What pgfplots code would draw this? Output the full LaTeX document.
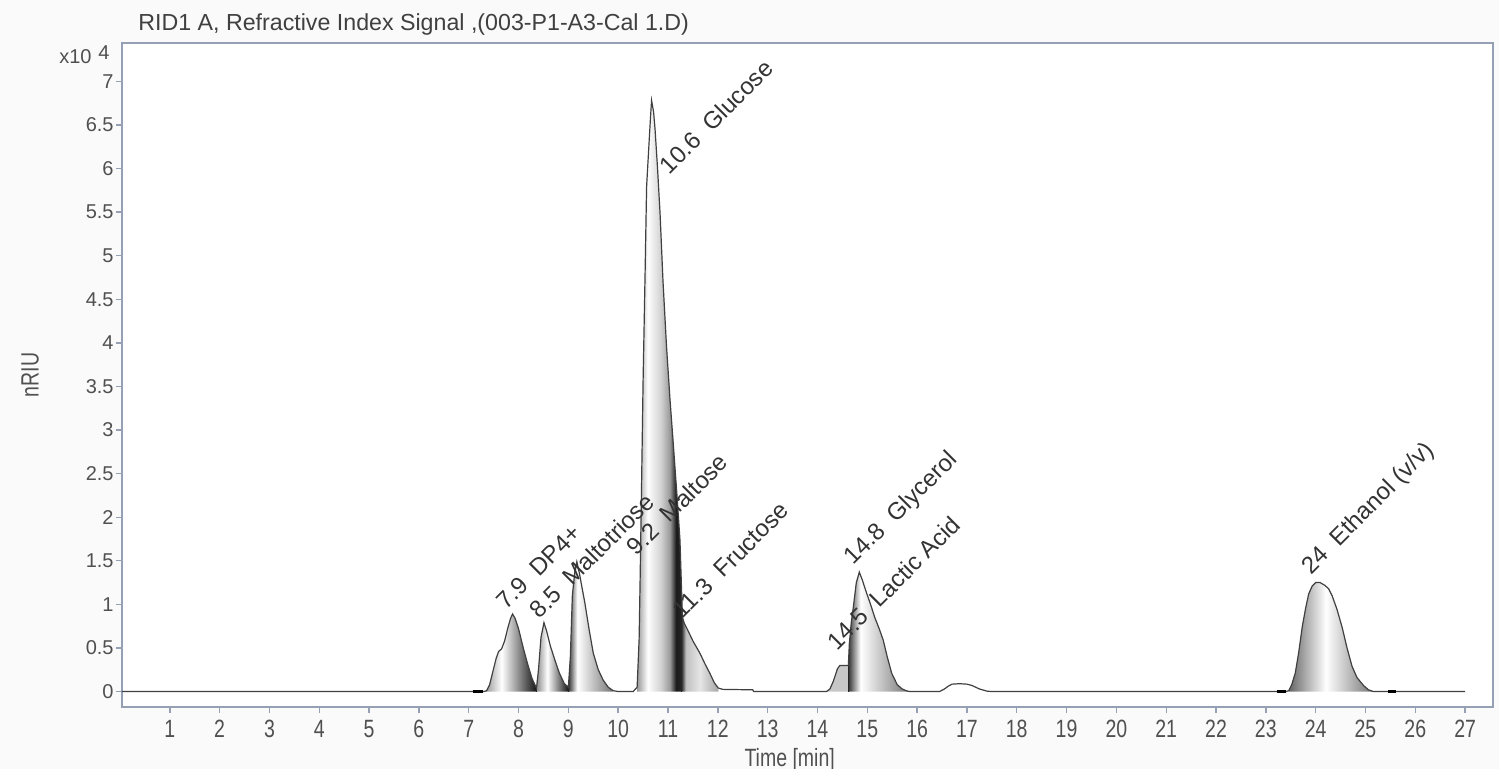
\documentclass[border=0pt]{standalone}
\usepackage{fontspec}
\setmainfont{Liberation Sans}
\newfontfamily\narrowfont{Liberation Sans}[FakeStretch=0.78]
\usepackage{pgfplots}
\pgfplotsset{compat=1.18}
\usepackage{pgfplotstable}

\definecolor{axcol}{RGB}{150,160,180}
\definecolor{txt}{RGB}{80,80,80}

\pgfdeclarehorizontalshading{pk}{100bp}{color(0bp)=(black!45); color(25bp)=(black!45); color(42bp)=(white); color(75bp)=(black!92); color(100bp)=(black!92)}
\pgfdeclarehorizontalshading{pkg}{100bp}{color(0bp)=(black!40); color(25bp)=(black!40); color(37bp)=(white); color(52bp)=(black!18); color(62bp)=(black!40); color(69bp)=(black!90); color(75bp)=(black!85); color(100bp)=(black!85)}
\pgfdeclarehorizontalshading{pkm}{100bp}{color(0bp)=(black!80); color(25bp)=(black!80); color(35bp)=(white); color(75bp)=(black!55); color(100bp)=(black!55)}
\pgfdeclarehorizontalshading{pkf}{100bp}{color(0bp)=(black!85); color(25bp)=(black!85); color(31bp)=(black!25); color(50bp)=(black!10); color(75bp)=(black!35); color(100bp)=(black!35)}
\pgfdeclarehorizontalshading{pke}{100bp}{color(0bp)=(black!60); color(25bp)=(black!60); color(47bp)=(white); color(75bp)=(black!55); color(100bp)=(black!55)}

\pgfplotstableread{
t v
0.04 0
7.10 0
7.30 0.0
7.36 0.01
7.42 0.08
7.48 0.22
7.55 0.38
7.60 0.46
7.66 0.49
7.72 0.58
7.78 0.72
7.84 0.84
7.88 0.89
7.93 0.84
8.00 0.72
8.09 0.51
8.18 0.32
8.27 0.15
8.36 0.04
8.40 0.25
8.45 0.62
8.51 0.79
8.56 0.70
8.64 0.52
8.73 0.36
8.82 0.21
8.92 0.09
9.00 0.05
9.04 0.40
9.08 1.10
9.13 1.38
9.17 1.49
9.22 1.36
9.33 1.02
9.42 0.70
9.50 0.44
9.60 0.25
9.70 0.13
9.80 0.05
9.90 0.01
10.00 0
10.30 0
10.38 0.05
10.42 0.60
10.44 1.28
10.47 2.40
10.50 3.57
10.54 4.80
10.57 5.79
10.62 6.30
10.65 6.60
10.67 6.78
10.71 6.65
10.74 6.45
10.79 6.00
10.84 5.49
10.90 4.70
10.97 3.96
11.04 3.35
11.11 2.81
11.18 2.25
11.24 1.74
11.27 1.20
11.29 0.85
11.33 0.78
11.40 0.70
11.50 0.58
11.64 0.44
11.74 0.32
11.84 0.21
11.93 0.10
12.01 0.04
12.10 0.025
12.70 0.02
12.72 0
14.18 0
14.25 0.03
14.32 0.12
14.40 0.26
14.45 0.30
14.62 0.30
14.64 0.55
14.68 0.80
14.72 0.97
14.78 1.25
14.84 1.37
14.90 1.28
14.98 1.14
15.06 1.01
15.15 0.85
15.24 0.72
15.32 0.59
15.40 0.40
15.49 0.21
15.60 0.08
15.70 0.03
15.78 0.01
15.85 0
16.45 0
16.55 0.03
16.62 0.06
16.70 0.085
16.85 0.09
17.00 0.085
17.10 0.07
17.25 0.03
17.40 0.005
17.50 0
23.40 0
23.46 0.01
23.52 0.08
23.59 0.21
23.66 0.45
23.73 0.74
23.80 0.96
23.86 1.12
23.93 1.21
24.00 1.25
24.09 1.25
24.18 1.22
24.26 1.18
24.33 1.10
24.43 0.94
24.53 0.74
24.63 0.50
24.73 0.29
24.83 0.16
24.96 0.07
25.06 0.02
25.16 0.00
27.00 0
}\sig

\begin{document}
\begin{tikzpicture}
\path[use as bounding box, fill=black!2] (-61pt,-31pt) rectangle (688.5pt,353.5pt);
\begin{axis}[
  at={(0,0)}, anchor=south west,
  scale only axis, width=685.5pt, height=332pt,
  xmin=0.04, xmax=27.56, ymin=-0.177, ymax=7.44,
  axis background/.style={fill=white},
  axis line style={axcol, line width=0.8pt},
  xtick={1,2,...,27},
  ytick={0,0.5,...,7},
  tick pos=left, tick align=outside,
  major tick length=3pt,
  tick style={axcol, line width=0.7pt},
  /pgf/number format/assume math mode=true,
  xticklabel style={font=\narrowfont\fontsize{12.5}{14}\selectfont, text=txt},
  yticklabel style={font=\fontsize{10}{12}\selectfont, text=txt, inner sep=1pt},
  clip=false,
]
% filled peaks
\addplot[draw=none, shading=pk, shade, restrict x to domain=7.30:8.36] table {\sig} \closedcycle;
\addplot[draw=none, shading=pk, shade, restrict x to domain=8.36:9.00] table {\sig} \closedcycle;
\addplot[draw=none, shading=pkm, shade, restrict x to domain=9.00:9.90] table {\sig} \closedcycle;
\addplot[draw=none, shading=pkg, shade, restrict x to domain=10.38:11.27] table {\sig} \closedcycle;
\addplot[draw=none, shading=pkf, shade, restrict x to domain=11.27:12.01] table {\sig} \closedcycle;
\addplot[draw=none, fill=black!22, restrict x to domain=14.18:14.62] table {\sig} \closedcycle;
\addplot[draw=none, shading=pkm, shade, restrict x to domain=14.62:15.85] table {\sig} \closedcycle;
\addplot[draw=none, shading=pke, shade, restrict x to domain=23.46:25.16] table {\sig} \closedcycle;
% drop lines
\addplot[black!85, line width=0.5pt] coordinates {(8.36,0) (8.36,0.04)};
\addplot[black!85, line width=0.6pt] coordinates {(9.00,0) (9.00,0.05)};
\addplot[black!85, line width=0.6pt] coordinates {(11.27,0) (11.27,1.20)};
\addplot[black!85, line width=0.8pt] coordinates {(14.62,0) (14.62,0.30)};
% signal
\addplot[black!75, line width=0.6pt] table {\sig};
% integration markers
\addplot[black, line width=1.6pt] coordinates {(7.08,0) (7.28,0)};
\addplot[black, line width=1.6pt] coordinates {(23.22,0) (23.40,0)};
\addplot[black, line width=1.6pt] coordinates {(25.46,0) (25.62,0)};
% annotations
\begin{scope}[every node/.style={rotate=45, anchor=south west, inner sep=0.5pt, text=black!80, font=\fontsize{12}{14}\selectfont}]
\node at (7.76,0.90) {7.9\ \ DP4+};
\node at (8.43,0.80) {8.5\ \ Maltotriose};
\node at (10.38,1.52) {9.2\ \ Maltose};
\node at (11.04,5.90) {10.6\ \ Glucose};
\node at (11.30,0.80) {11.3\ \ Fructose};
\node at (14.40,0.44) {14.5\ \ Lactic Acid};
\node at (14.80,1.38) {14.8\ \ Glycerol};
\node at (23.98,1.27) {24\ \ Ethanol (v/v)};
\end{scope}
% title and labels
\node[anchor=base west, inner sep=0pt, text=black!75, font=\fontsize{11.6}{14}\selectfont] at (rel axis cs:0,1) [xshift=8pt, yshift=6pt] {RID1 A, Refractive Index Signal ,(003-P1-A3-Cal 1.D)};
\node[anchor=base east, inner sep=0pt, text=txt, font=\fontsize{10}{12}\selectfont] at (rel axis cs:0,1) [xshift=-15pt, yshift=-10.5pt] {x10};
\node[anchor=base east, inner sep=0pt, text=txt, font=\fontsize{10}{12}\selectfont] at (rel axis cs:0,1) [xshift=-6pt, yshift=-8.5pt] {4};
\node[rotate=90, text=txt, font=\narrowfont\fontsize{12.5}{14}\selectfont] at (rel axis cs:-0.067,0.5) {nRIU};
\node[anchor=base, text=txt, font=\narrowfont\fontsize{12.5}{14}\selectfont] at (rel axis cs:0.487,-0.089) {Time [min]};
\end{axis}
\end{tikzpicture}
\end{document}
